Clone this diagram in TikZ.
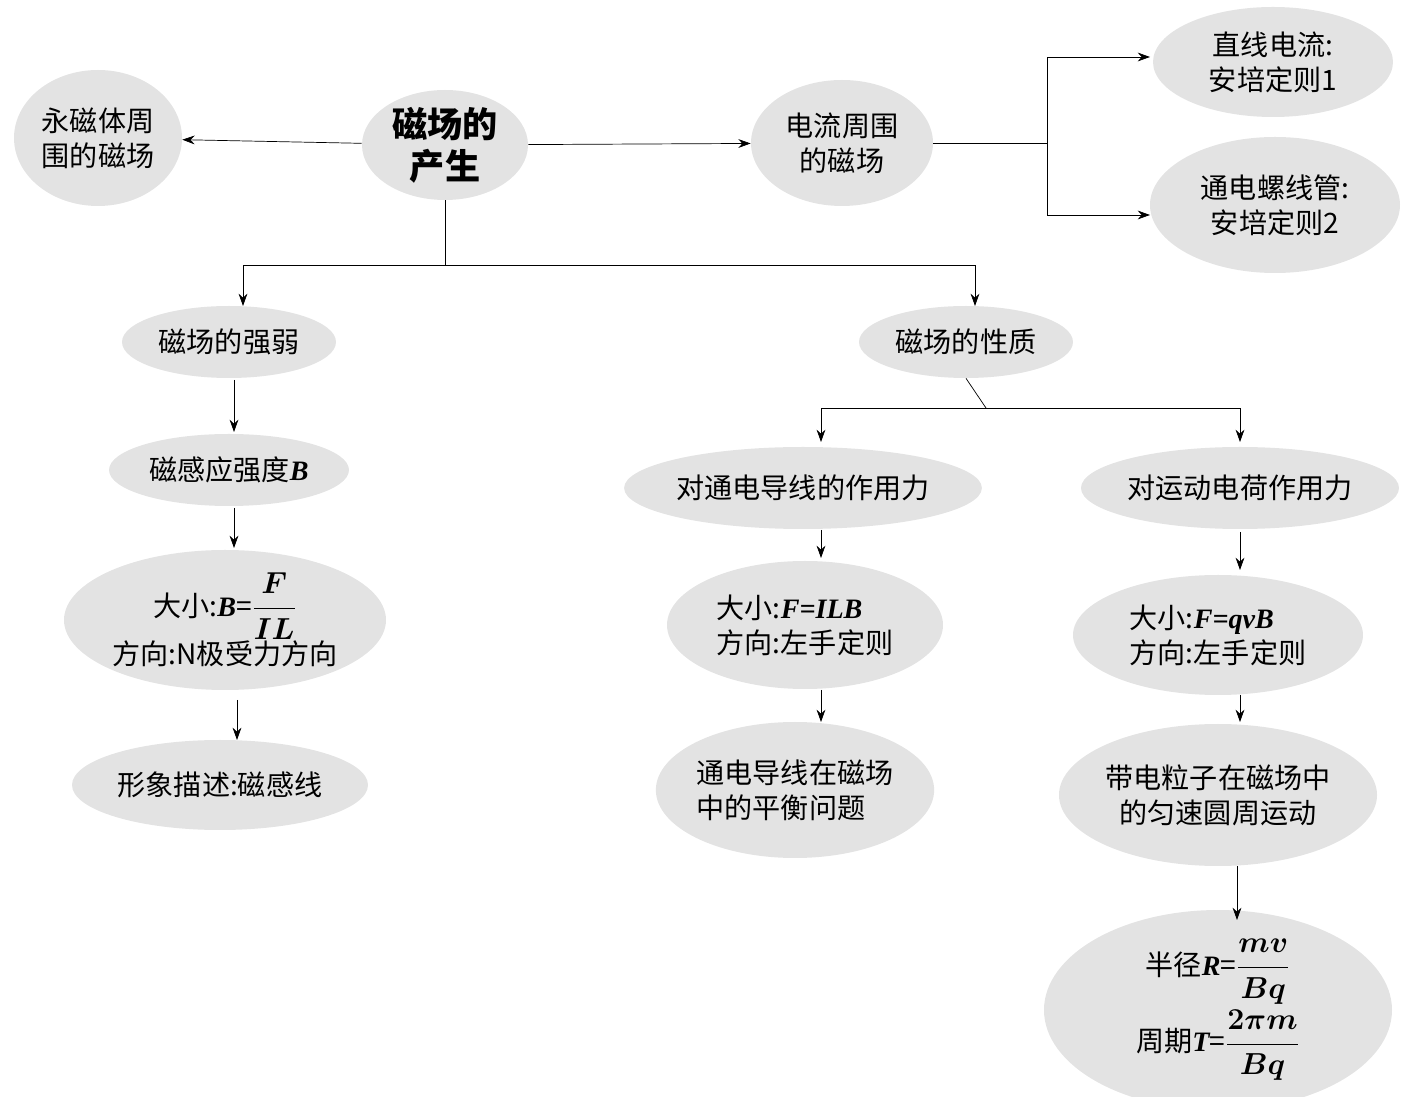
\documentclass[tikz,border=0pt]{standalone}
\usepackage{amsmath,bm}
\usepackage{fontspec}
\setmainfont{Noto Sans CJK SC}
\newfontfamily\lser{Liberation Serif}
\newcommand{\mv}[1]{{\lser\bfseries\itshape #1}}
\usetikzlibrary{shapes.geometric,arrows.meta}

\begin{document}
\begin{tikzpicture}[x=0.02cm,y=-0.02cm,
    every node/.style={font=\fontsize{16}{20}\selectfont},
    bub/.style={ellipse,fill=gray!22,inner sep=0pt,align=center},
    arr/.style={-{Stealth[length=7pt,width=5pt]},thin}]
  \useasboundingbox (0,0) rectangle (1404,1097);

  % top row
  \node[bub,minimum width=168*0.02cm,minimum height=136*0.02cm] (yong) at (98,138) {永磁体周\\围的磁场};
  \node[bub,minimum width=166*0.02cm,minimum height=110*0.02cm,font=\fontsize{20}{24}\selectfont\bfseries] (chan) at (445,145) {磁场的\\产生};
  \node[bub,minimum width=182*0.02cm,minimum height=126*0.02cm] (dian) at (842,143) {电流周围\\的磁场};
  \node[bub,minimum width=240*0.02cm,minimum height=110*0.02cm] (zhi) at (1273,62) {直线电流:\\安培定则1};
  \node[bub,minimum width=250*0.02cm,minimum height=136*0.02cm] (luo) at (1275,205) {通电螺线管:\\安培定则2};

  % left branch
  \node[bub,minimum width=214*0.02cm,minimum height=72*0.02cm] (qr) at (229,342) {磁场的强弱};
  \node[bub,minimum width=240*0.02cm,minimum height=72*0.02cm] (gan) at (229,470) {磁感应强度\mv{B}};
  \node[bub,minimum width=322*0.02cm,minimum height=140*0.02cm] (dxB) at (225,620)
    {大小:\mv{B}=$\bm{\dfrac{F}{IL}}$\\方向:N极受力方向};
  \node[bub,minimum width=296*0.02cm,minimum height=90*0.02cm] (xing) at (220,785) {形象描述:磁感线};

  % right branch
  \node[bub,minimum width=214*0.02cm,minimum height=72*0.02cm] (xz) at (966,342) {磁场的性质};
  \node[bub,minimum width=346*0.02cm,minimum height=82*0.02cm] (dao) at (803,488) {对通电导线的作用力};
  \node[bub,minimum width=318*0.02cm,minimum height=82*0.02cm] (yun) at (1240,488) {对运动电荷作用力};
  \node[bub,minimum width=276*0.02cm,minimum height=128*0.02cm,align=left] (ilb) at (805,625) {大小:\mv{F=ILB}\\方向:左手定则};
  \node[bub,minimum width=290*0.02cm,minimum height=120*0.02cm,align=left] (qvb) at (1218,635) {大小:\mv{F=qvB}\\方向:左手定则};
  \node[bub,minimum width=262*0.02cm,minimum height=136*0.02cm,align=left] (ping) at (795,790) {通电导线在磁场\\中的平衡问题};
  \node[bub,minimum width=318*0.02cm,minimum height=142*0.02cm] (yuan) at (1218,795) {带电粒子在磁场中\\的匀速圆周运动};
  \node[bub,minimum width=348*0.02cm,minimum height=170*0.02cm] (ban) at (1218,1010)
    {半径\mv{R}=$\bm{\dfrac{mv}{Bq}}$\\[2pt]周期\mv{T}=$\bm{\dfrac{2\pi m}{Bq}}$};

  % connectors
  \draw[arr] (chan) -- (yong);
  \draw[arr] (chan) -- (dian);
  \draw (dian.east) -- (1047,143) coordinate (j0);
  \draw[arr] (j0) |- (1150,57);
  \draw[arr] (j0) |- (1150,215);
  \draw (chan.south) -- (445,265) coordinate (j1);
  \draw[arr] (j1) -| (243,306);
  \draw[arr] (j1) -| (975,306);
  \draw[arr] (234,380) -- (234,432);
  \draw[arr] (234,508) -- (234,548);
  \draw[arr] (237,700) -- (237,740);
  \draw (xz.south) -- (986,408) coordinate (j2);
  \draw[arr] (j2) -| (821,442);
  \draw[arr] (j2) -| (1240,442);
  \draw[arr] (821,530) -- (821,558);
  \draw[arr] (821,690) -- (821,722);
  \draw[arr] (1240,532) -- (1240,570);
  \draw[arr] (1240,695) -- (1240,722);
  \draw[arr] (1237,866) -- (1237,920);
\end{tikzpicture}
\end{document}
